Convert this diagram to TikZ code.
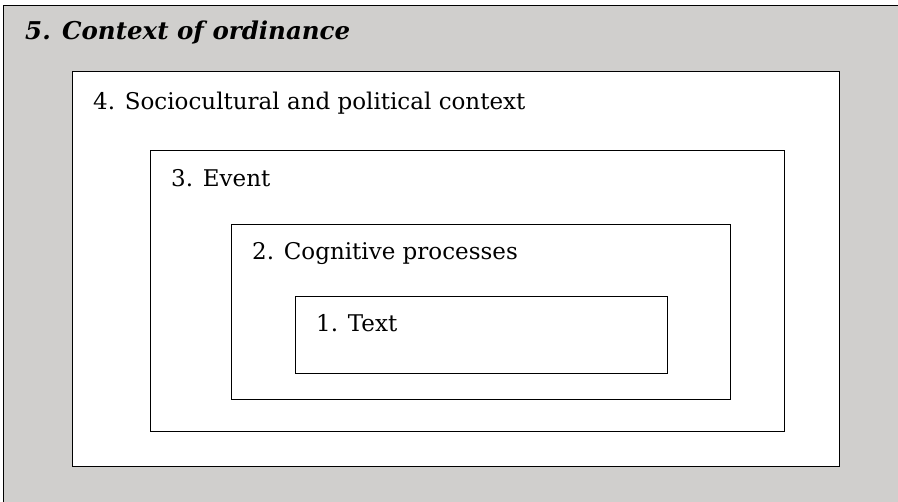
\documentclass[tikz,border=0pt]{standalone}
\usepackage{fontspec}
\setmainfont{DejaVu Serif}
\usetikzlibrary{positioning}

\definecolor{ordgray}{RGB}{208,207,205}

\tikzset{
	layer/.style={draw=black, fill=white, line width=0.85pt},
	label/.style={anchor=base west, inner sep=0pt, font=\fontsize{23}{27}\selectfont}
}

\begin{document}
\begin{tikzpicture}[x=1pt, y=-1pt]
	\useasboundingbox (0,0) rectangle (898,502);
	\clip (0,0) rectangle (898,502);
	
	% outer layer
	\fill[ordgray] (3,5) rectangle (905,510);
	\draw[line width=0.85pt] (3,510) -- (3,5) -- (905,5);
	
	% nested layers
	\draw[layer] (72,71) coordinate (lt4) rectangle (839,466) coordinate (rb4);
	\draw[layer] (150,150) coordinate (lt3) rectangle (784,431) coordinate (rb3);
	\draw[layer] (231,224) coordinate (lt2) rectangle (730,399) coordinate (rb2);
	\draw[layer] (295,296) coordinate (lt1) rectangle (667,373) coordinate (rb1);
	
	\node[label, font=\fontsize{24.5}{28}\selectfont\bfseries\itshape] (ordinance) at (25,40) {5. Context of ordinance};
	\node[label] (socio) at (93,110) {4. Sociocultural and political context};
	\node[label] (event) at (171,187) {3. Event};
	\node[label] (cognitive) at (252,260) {2. Cognitive processes};
	\node[label] (text) at (316,332) {1. Text};
\end{tikzpicture}
\end{document}
